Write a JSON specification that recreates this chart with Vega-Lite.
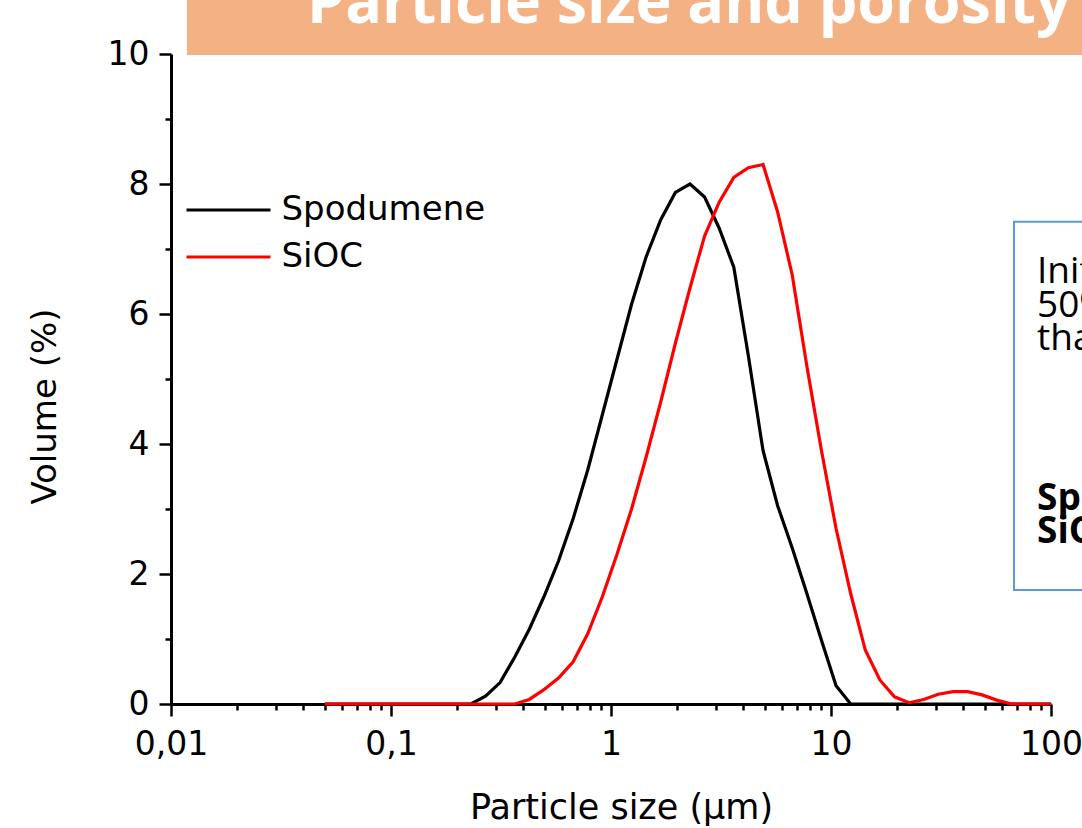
{
  "$schema": "https://vega.github.io/schema/vega-lite/v6.json",
  "width": 880,
  "height": 650,
  "autosize": {"type": "none"},
  "padding": {"left": 171, "top": 54, "right": 31, "bottom": 124},
  "background": "white",
  "config": {"view": {"stroke": null}, "font": "DejaVu Sans"},
  "datasets": {
    "curves": [
      {"series": "Spodumene", "size": 0.05, "volume": 0},
      {"series": "Spodumene", "size": 0.2307, "volume": 0},
      {"series": "Spodumene", "size": 0.2688, "volume": 0.12},
      {"series": "Spodumene", "size": 0.3132, "volume": 0.33},
      {"series": "Spodumene", "size": 0.3649, "volume": 0.72},
      {"series": "Spodumene", "size": 0.4252, "volume": 1.15},
      {"series": "Spodumene", "size": 0.4955, "volume": 1.65},
      {"series": "Spodumene", "size": 0.5773, "volume": 2.2},
      {"series": "Spodumene", "size": 0.6727, "volume": 2.85},
      {"series": "Spodumene", "size": 0.7838, "volume": 3.6},
      {"series": "Spodumene", "size": 0.9133, "volume": 4.45},
      {"series": "Spodumene", "size": 1.0641, "volume": 5.3},
      {"series": "Spodumene", "size": 1.24, "volume": 6.15},
      {"series": "Spodumene", "size": 1.4448, "volume": 6.88},
      {"series": "Spodumene", "size": 1.6834, "volume": 7.45},
      {"series": "Spodumene", "size": 1.9616, "volume": 7.87},
      {"series": "Spodumene", "size": 2.2856, "volume": 8.0},
      {"series": "Spodumene", "size": 2.6632, "volume": 7.8},
      {"series": "Spodumene", "size": 3.1032, "volume": 7.32},
      {"series": "Spodumene", "size": 3.6159, "volume": 6.72},
      {"series": "Spodumene", "size": 4.2132, "volume": 5.35},
      {"series": "Spodumene", "size": 4.9091, "volume": 3.9},
      {"series": "Spodumene", "size": 5.72, "volume": 3.05},
      {"series": "Spodumene", "size": 6.6649, "volume": 2.4},
      {"series": "Spodumene", "size": 7.766, "volume": 1.7},
      {"series": "Spodumene", "size": 9.0489, "volume": 0.98},
      {"series": "Spodumene", "size": 10.544, "volume": 0.28},
      {"series": "Spodumene", "size": 12.285, "volume": 0},
      {"series": "Spodumene", "size": 100, "volume": 0},
      {"series": "SiOC", "size": 0.05, "volume": 0},
      {"series": "SiOC", "size": 0.3649, "volume": 0},
      {"series": "SiOC", "size": 0.4252, "volume": 0.07},
      {"series": "SiOC", "size": 0.4955, "volume": 0.22},
      {"series": "SiOC", "size": 0.5773, "volume": 0.4},
      {"series": "SiOC", "size": 0.6727, "volume": 0.65},
      {"series": "SiOC", "size": 0.7838, "volume": 1.08},
      {"series": "SiOC", "size": 0.9133, "volume": 1.65},
      {"series": "SiOC", "size": 1.0641, "volume": 2.3},
      {"series": "SiOC", "size": 1.24, "volume": 3.0},
      {"series": "SiOC", "size": 1.4448, "volume": 3.8},
      {"series": "SiOC", "size": 1.6834, "volume": 4.65},
      {"series": "SiOC", "size": 1.9616, "volume": 5.55},
      {"series": "SiOC", "size": 2.2856, "volume": 6.4},
      {"series": "SiOC", "size": 2.6632, "volume": 7.2},
      {"series": "SiOC", "size": 3.1032, "volume": 7.72},
      {"series": "SiOC", "size": 3.6159, "volume": 8.1},
      {"series": "SiOC", "size": 4.2132, "volume": 8.25},
      {"series": "SiOC", "size": 4.9091, "volume": 8.3},
      {"series": "SiOC", "size": 5.72, "volume": 7.57},
      {"series": "SiOC", "size": 6.6649, "volume": 6.6},
      {"series": "SiOC", "size": 7.766, "volume": 5.2},
      {"series": "SiOC", "size": 9.0489, "volume": 3.9},
      {"series": "SiOC", "size": 10.544, "volume": 2.7},
      {"series": "SiOC", "size": 12.285, "volume": 1.7},
      {"series": "SiOC", "size": 14.315, "volume": 0.83},
      {"series": "SiOC", "size": 16.68, "volume": 0.37},
      {"series": "SiOC", "size": 19.435, "volume": 0.11},
      {"series": "SiOC", "size": 22.646, "volume": 0.02},
      {"series": "SiOC", "size": 26.387, "volume": 0.07},
      {"series": "SiOC", "size": 30.746, "volume": 0.15},
      {"series": "SiOC", "size": 35.825, "volume": 0.19},
      {"series": "SiOC", "size": 41.743, "volume": 0.19},
      {"series": "SiOC", "size": 48.64, "volume": 0.14},
      {"series": "SiOC", "size": 56.67, "volume": 0.06},
      {"series": "SiOC", "size": 66.04, "volume": 0},
      {"series": "SiOC", "size": 100, "volume": 0}
    ],
    "banner": [{"x": 0.01182, "x2": 1000, "y": 9.985, "y2": 10.9}],
    "bannertext": [{"x": 0.0415, "y": 10.47, "text": "Particle size and porosity"}],
    "box": [{"x": 67.9, "x2": 1000, "y": 1.755, "y2": 7.42}],
    "boxtext": [
      {"x": 86.4, "y": 6.47, "text": "Initial", "bold": false},
      {"x": 86.4, "y": 5.96, "text": "50%", "bold": false},
      {"x": 86.4, "y": 5.45, "text": "than", "bold": false},
      {"x": 86.4, "y": 2.99, "text": "Spodumene", "bold": true},
      {"x": 86.4, "y": 2.48, "text": "SiOC", "bold": true}
    ]
  },
  "layer": [
    {
      "data": {"name": "banner"},
      "mark": {"type": "rect", "color": "#F4B183"},
      "encoding": {
        "x": {"field": "x", "type": "quantitative", "scale": {"type": "log", "domain": [0.01, 100], "nice": false}},
        "x2": {"field": "x2"},
        "y": {"field": "y", "type": "quantitative", "scale": {"domain": [0, 10], "nice": false}},
        "y2": {"field": "y2"}
      }
    },
    {
      "data": {"name": "bannertext"},
      "mark": {"type": "text", "font": "Open Sans", "fontWeight": "bold", "fontSize": 61, "color": "white", "align": "left", "baseline": "alphabetic"},
      "encoding": {
        "x": {"field": "x", "type": "quantitative", "scale": {"type": "log", "domain": [0.01, 100], "nice": false}},
        "y": {"field": "y", "type": "quantitative", "scale": {"domain": [0, 10], "nice": false}},
        "text": {"field": "text"}
      }
    },
    {
      "data": {"name": "box"},
      "mark": {"type": "rect", "fill": "white", "stroke": "#5B9BD5", "strokeWidth": 2},
      "encoding": {
        "x": {"field": "x", "type": "quantitative", "scale": {"type": "log", "domain": [0.01, 100], "nice": false}},
        "x2": {"field": "x2"},
        "y": {"field": "y", "type": "quantitative", "scale": {"domain": [0, 10], "nice": false}},
        "y2": {"field": "y2"}
      }
    },
    {
      "data": {"name": "boxtext"},
      "transform": [{"filter": "!datum.bold"}],
      "mark": {"type": "text", "font": "Open Sans", "fontSize": 37, "color": "black", "align": "left", "baseline": "alphabetic"},
      "encoding": {
        "x": {"field": "x", "type": "quantitative", "scale": {"type": "log", "domain": [0.01, 100], "nice": false}},
        "y": {"field": "y", "type": "quantitative", "scale": {"domain": [0, 10], "nice": false}},
        "text": {"field": "text"}
      }
    },
    {
      "data": {"name": "boxtext"},
      "transform": [{"filter": "datum.bold"}],
      "mark": {"type": "text", "font": "Open Sans", "fontWeight": "bold", "fontSize": 37, "color": "black", "align": "left", "baseline": "alphabetic"},
      "encoding": {
        "x": {"field": "x", "type": "quantitative", "scale": {"type": "log", "domain": [0.01, 100], "nice": false}},
        "y": {"field": "y", "type": "quantitative", "scale": {"domain": [0, 10], "nice": false}},
        "text": {"field": "text"}
      }
    },
    {
      "data": {"name": "curves"},
      "mark": {"type": "line", "strokeWidth": 3.2},
      "encoding": {
        "x": {
          "field": "size", "type": "quantitative",
          "scale": {"type": "log", "domain": [0.01, 100], "nice": false},
          "axis": {
            "title": "Particle size (μm)",
            "values": [0.01, 0.02, 0.03, 0.04, 0.05, 0.06, 0.07, 0.08, 0.09, 0.1, 0.2, 0.3, 0.4, 0.5, 0.6, 0.7, 0.8, 0.9, 1, 2, 3, 4, 5, 6, 7, 8, 9, 10, 20, 30, 40, 50, 60, 70, 80, 90, 100],
            "labelExpr": "indexof([0.01,0.1,1,10,100], datum.value) >= 0 ? replace(format(datum.value, '~g'), '.', ',') : ''",
            "tickSize": {"condition": {"test": "indexof([0.01,0.1,1,10,100], datum.value) >= 0", "value": 12}, "value": 6},
            "tickWidth": 2.5, "tickColor": "black",
            "domainColor": "black", "domainWidth": 3,
            "grid": false,
            "labelFont": "DejaVu Sans", "labelFontSize": 33, "labelColor": "black",
            "labelPadding": 12, "labelFlush": false, "labelOverlap": false,
            "titleFont": "DejaVu Sans", "titleFontSize": 35, "titleFontWeight": "normal", "titleColor": "black",
            "titleX": 450, "titleY": 114, "titleBaseline": "alphabetic", "titleAlign": "center"
          }
        },
        "y": {
          "field": "volume", "type": "quantitative",
          "scale": {"domain": [0, 10], "nice": false},
          "axis": {
            "title": "Volume (%)",
            "values": [0, 1, 2, 3, 4, 5, 6, 7, 8, 9, 10],
            "labelExpr": "datum.value % 2 == 0 ? format(datum.value, 'd') : ''",
            "tickSize": {"condition": {"test": "datum.value % 2 == 0", "value": 12}, "value": 6},
            "tickWidth": 2.5, "tickColor": "black",
            "domainColor": "black", "domainWidth": 3,
            "grid": false,
            "labelFont": "DejaVu Sans", "labelFontSize": 33, "labelColor": "black",
            "labelPadding": 10, "labelOverlap": false, "labelFlush": false,
            "titleFont": "DejaVu Sans", "titleFontSize": 34, "titleFontWeight": "normal", "titleColor": "black",
            "titleX": -116, "titleY": 352, "titleBaseline": "alphabetic", "titleAlign": "center", "titleAngle": -90
          }
        },
        "color": {
          "field": "series", "type": "nominal",
          "scale": {"domain": ["Spodumene", "SiOC"], "range": ["#000000", "#ff0000"]},
          "legend": {
            "orient": "none", "legendX": 40.5, "legendY": 139,
            "title": null, "padding": 0,
            "symbolType": "M-4,0H4", "symbolSize": 441, "symbolStrokeWidth": 3,
            "labelFont": "DejaVu Sans", "labelFontSize": 34, "labelColor": "black", "labelLimit": 0,
            "labelOffset": 36, "rowPadding": 13
          }
        }
      }
    }
  ]
}
